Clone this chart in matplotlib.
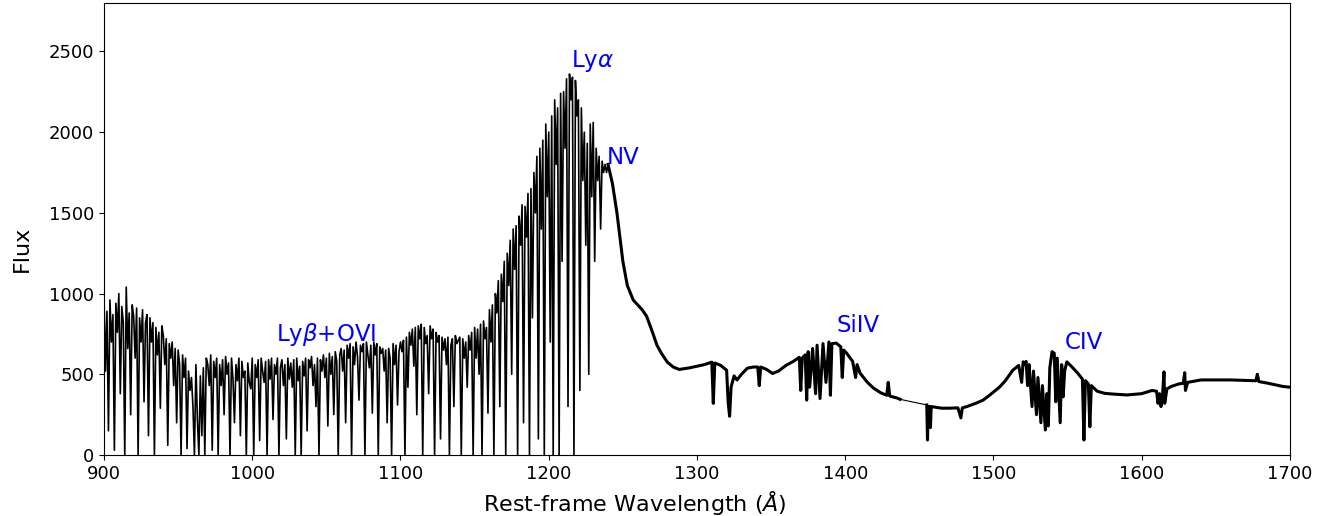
#!/usr/bin/env python3
"""Quasar rest-frame spectrum with emission line labels."""
import numpy as np
import matplotlib
matplotlib.use('Agg')
import matplotlib.pyplot as plt

# Lyman-alpha forest, sampled every 1 A from 900 to 1239 A
forest_start = 900
forest_flux = [
    980, 520, 890, 150, 960, 700, 870, 30, 940, 760,
    1000, 380, 920, 820, 0, 1040, 660, 880, 250, 930,
    860, 600, 910, 0, 850, 700, 900, 330, 820, 870,
    120, 850, 700, 820, 0, 790, 620, 760, 290, 800,
    740, 560, 720, 60, 690, 600, 700, 430, 660, 200,
    650, 560, 0, 620, 480, 600, 40, 520, 400, 480,
    300, 0, 560, 220, 0, 490, 120, 540, 0, 600,
    560, 430, 620, 30, 580, 480, 600, 0, 560, 430,
    590, 250, 610, 500, 570, 0, 600, 470, 200, 560,
    460, 600, 120, 580, 480, 520, 0, 570, 450, 410,
    600, 0, 560, 480, 590, 90, 600, 520, 450, 580,
    0, 590, 470, 600, 220, 560, 500, 600, 0, 540,
    590, 430, 560, 100, 600, 470, 570, 420, 590, 0,
    600, 460, 550, 0, 580, 490, 600, 150, 590, 540,
    610, 430, 560, 300, 600, 0, 590, 520, 620, 480,
    600, 180, 630, 500, 610, 250, 640, 580, 0, 620,
    660, 520, 650, 200, 680, 600, 690, 0, 670, 560,
    700, 610, 340, 680, 640, 690, 0, 700, 620, 540,
    680, 260, 700, 620, 690, 0, 670, 630, 660, 520,
    650, 200, 660, 600, 0, 690, 560, 680, 310, 640,
    700, 640, 710, 0, 730, 420, 760, 680, 780, 550,
    790, 250, 800, 720, 810, 0, 790, 690, 740, 380,
    800, 720, 780, 0, 760, 700, 740, 100, 730, 650,
    720, 560, 730, 0, 680, 720, 300, 740, 690, 710,
    730, 0, 720, 600, 700, 420, 740, 650, 760, 0,
    790, 600, 780, 500, 810, 0, 830, 720, 790, 260,
    900, 700, 930, 0, 1000, 880, 1080, 300, 1120, 950,
    1200, 0, 1250, 1050, 1330, 500, 1400, 1150, 1420, 0,
    1480, 1300, 1550, 200, 1540, 1350, 1620, 0, 1650, 850,
    1750, 1500, 1850, 100, 1900, 1400, 1950, 0, 2050, 1600,
    2000, 700, 2100, 0, 2200, 1800, 2150, 0, 2240, 1200,
    2250, 1900, 2330, 300, 2360, 2200, 2340, 0, 2320, 2100,
    2200, 400, 2150, 1700, 2000, 1300, 1930, 500, 2050, 1600,
    2060, 1200, 1900, 1700, 1850, 1400, 1820, 1750, 1800, 1750,
]

# red side of Lya: NV, SiIV and continuum up to the data gap
red_wave = [
    1240, 1243, 1246, 1250, 1253, 1257, 1260, 1263, 1266, 1270,
    1273, 1276, 1280, 1284, 1288, 1295, 1300, 1305, 1310, 1311,
    1312, 1316, 1320, 1321, 1322, 1323, 1325, 1327, 1330, 1334,
    1338, 1341, 1342, 1343, 1347, 1351, 1355, 1360, 1365, 1369,
    1370, 1371, 1373, 1374, 1375, 1376, 1378, 1380, 1381, 1383,
    1385, 1387, 1389, 1390, 1391, 1394, 1397, 1398, 1399, 1401,
    1405, 1407, 1408, 1410, 1415, 1419, 1424, 1428, 1429, 1430,
    1435, 1437,
]
red_flux = [
    1800, 1680, 1500, 1200, 1050, 960, 930, 900, 860, 760,
    680, 630, 575, 545, 530, 540, 550, 560, 575, 320,
    570, 555, 525, 330, 240, 420, 490, 465, 500, 538,
    545, 545, 430, 545, 530, 505, 520, 555, 580, 605,
    400, 600, 620, 340, 640, 420, 660, 380, 680, 350,
    690, 450, 700, 370, 690, 693, 670, 480, 650, 630,
    580, 480, 560, 507, 450, 415, 385, 370, 450, 365,
    353, 345,
]

# CIV region and red continuum after the gap
civ_wave = [
    1455, 1455.5, 1456, 1457, 1457.5, 1458, 1465, 1470, 1476, 1478,
    1479, 1482, 1485, 1488, 1493, 1498, 1504, 1508, 1513, 1517,
    1519, 1520, 1521, 1522, 1523, 1524, 1526, 1527, 1529, 1530,
    1532, 1533, 1535, 1536, 1537, 1538, 1539.5, 1541, 1542, 1543,
    1545, 1546, 1547, 1548, 1549.5, 1553, 1557, 1560, 1561, 1562,
    1564, 1565, 1566, 1570, 1575, 1580, 1590, 1600, 1607, 1610,
    1611, 1612, 1613, 1614, 1615, 1615.5, 1617, 1620, 1625, 1628,
    1629, 1629.5, 1631, 1640, 1650, 1660, 1670, 1677, 1678, 1679,
    1685, 1690, 1695, 1700,
]
civ_flux = [
    310, 93, 300, 300, 170, 300, 290, 290, 292, 230,
    292, 300, 310, 320, 340, 375, 420, 460, 525, 555,
    450, 577, 560, 580, 430, 560, 300, 520, 250, 480,
    200, 430, 155, 380, 180, 540, 640, 630, 330, 600,
    200, 560, 360, 520, 577, 545, 505, 470, 93, 460,
    440, 175, 430, 395, 382, 378, 372, 380, 400, 395,
    320, 380, 300, 360, 515, 320, 410, 425, 440, 445,
    510, 400, 450, 465, 465, 465, 462, 460, 500, 455,
    445, 435, 425, 420,
]

lines = ['Ly$\\beta$+OVI', 'Ly$\\alpha$', 'NV', 'SiIV', 'CIV']
line_x = [1016, 1215, 1239, 1394, 1548]
line_y = [665, 2360, 1770, 730, 625]

forest_wave = forest_start + np.arange(len(forest_flux))
wave = np.concatenate([forest_wave, red_wave, civ_wave])
flux = np.concatenate([forest_flux, red_flux, civ_flux])

fig = plt.figure(figsize=(13.3, 5.16), dpi=100)
ax = fig.add_axes([0.0782, 0.1182, 0.8917, 0.876])

# forest thin; the smoother continuum drawn heavier like its noise band
blue = wave <= 1240
gap = (wave >= 1437) & (wave <= 1455)
mid = (wave >= 1240) & (wave <= 1437)
tail = wave >= 1455
ax.plot(wave[blue], flux[blue], color='black', lw=1.2)
ax.plot(wave[gap], flux[gap], color='black', lw=0.8)
ax.plot(wave[mid], flux[mid], color='black', lw=2.2)
ax.plot(wave[tail], flux[tail], color='black', lw=2.2)

for name, lx, ly in zip(lines, line_x, line_y):
    ax.text(lx, ly, name, color='blue', fontsize=16.5, ha='left', va='bottom')

ax.set_xlim(900, 1700)
ax.set_ylim(0, 2800)
ax.set_xlabel('Rest-frame Wavelength ($\\AA$)', fontsize=16)
ax.set_ylabel('Flux', fontsize=16)
ax.xaxis.set_label_coords(0.448, -0.075)
ax.yaxis.set_label_coords(-0.061, 0.456)
ax.tick_params(labelsize=13)

fig.savefig('out.png', dpi=100)
